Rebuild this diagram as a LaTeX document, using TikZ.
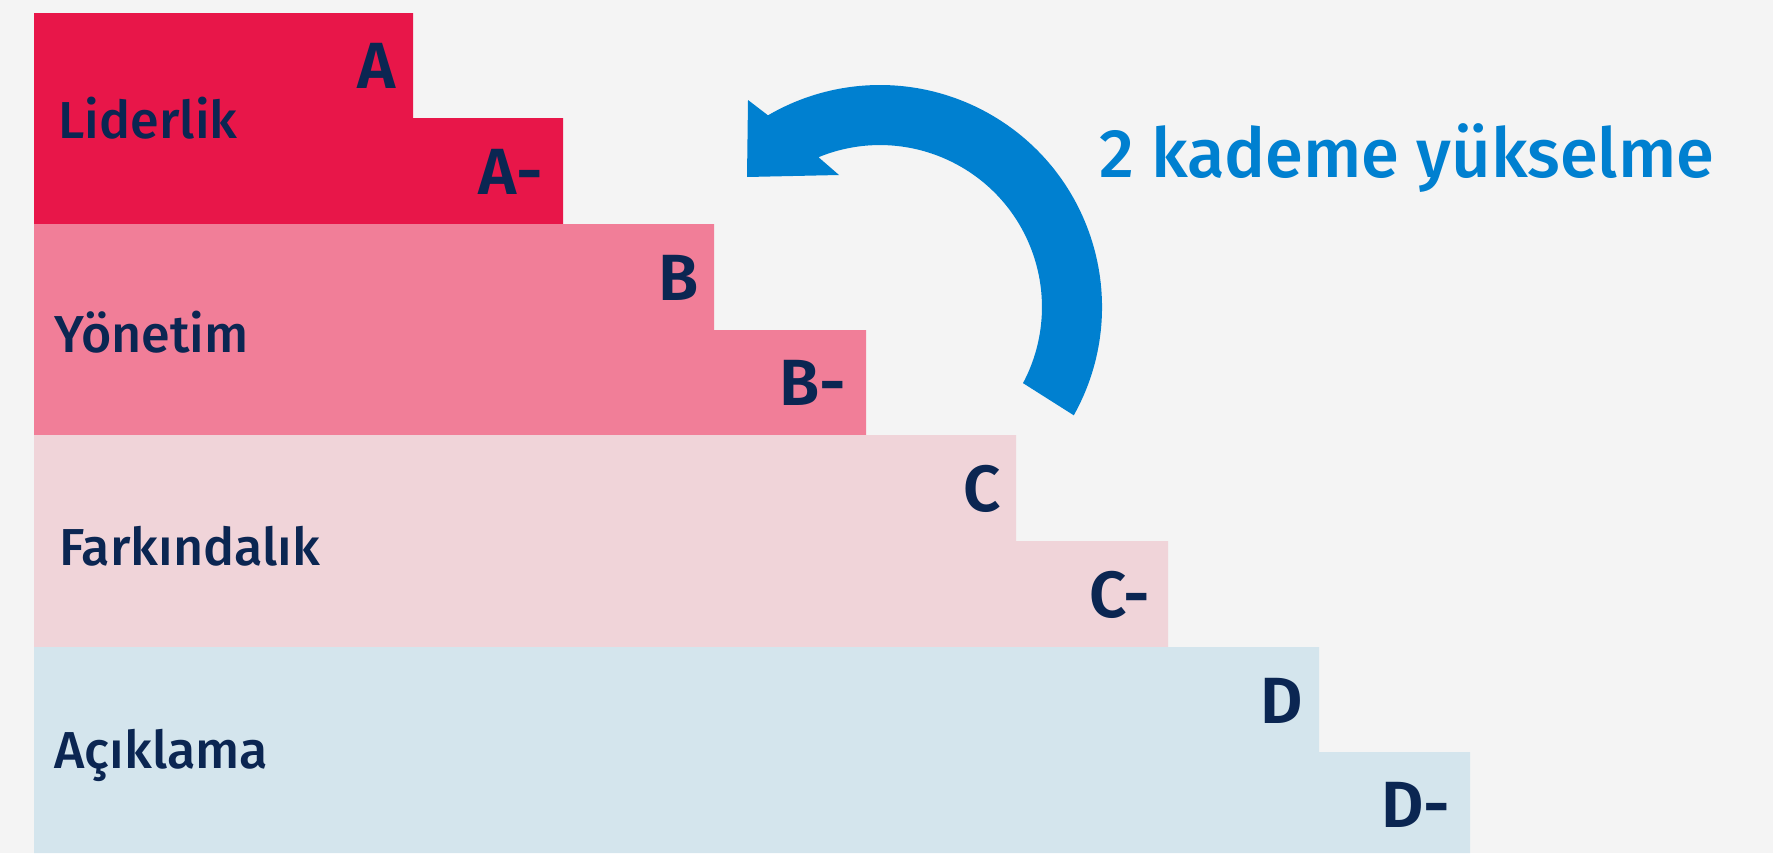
\documentclass[tikz,border=0pt]{standalone}
\usepackage{fontspec}
\setmainfont{Fira Sans}
\newfontfamily\medfont{Fira Sans Medium}
\newfontfamily\semifont{Fira Sans SemiBold}
\usepackage{tikz}
\definecolor{bgGrey}{RGB}{244,244,244}
\definecolor{stepRed}{RGB}{232,22,73}
\definecolor{stepPink}{RGB}{241,126,152}
\definecolor{stepRose}{RGB}{240,212,217}
\definecolor{stepBlue}{RGB}{212,229,237}
\definecolor{navyText}{RGB}{11,38,82}
\definecolor{arrowBlue}{RGB}{0,128,208}
\tikzset{every picture/.style={line width=0.75pt}}
\tikzset{
  grade/.style={anchor=base east, inner sep=0pt, text=navyText, font=\semifont\fontsize{49}{55}\selectfont},
  level/.style={anchor=base west, inner sep=0pt, text=navyText, font=\medfont\fontsize{39}{45}\selectfont},
  note/.style={anchor=base west, inner sep=0pt, text=arrowBlue, font=\medfont\fontsize{51.5}{58}\selectfont}
}

\begin{document}
\begin{tikzpicture}[x=0.75pt,y=0.75pt,yscale=-1,xscale=1]
%Shape: Rectangle [background]
\fill[bgGrey] (0,0) rectangle (1773,853);

%Shape: Steps [Liderlik]
\fill[stepRed] (34,13) -- (413,13) -- (413,118) -- (563,118) -- (563,224) -- (34,224) -- cycle;
%Shape: Steps [Yonetim]
\fill[stepPink] (34,224) -- (714,224) -- (714,330) -- (866,330) -- (866,435) -- (34,435) -- cycle;
%Shape: Steps [Farkindalik]
\fill[stepRose] (34,435) -- (1016,435) -- (1016,541) -- (1168,541) -- (1168,647) -- (34,647) -- cycle;
%Shape: Steps [Aciklama]
\fill[stepBlue] (34,647) -- (1319,647) -- (1319,752) -- (1470,752) -- (1470,853) -- (34,853) -- cycle;

%Curved Arrow
\coordinate (turnC) at (880,307);
\fill[arrowBlue] (turnC) ++(29.2:222) arc[start angle=29.2, end angle=-120.3, radius=222]
  -- (748,100) -- (747,177) -- (839,175) -- (818.5,157.2)
  arc[start angle=-112.3, end angle=28, radius=162] -- cycle;

% Text Node
\draw (58,138) node [level] (lidTxt) {Liderlik};
% Text Node
\draw (54,352) node [level] (yonTxt) {Yönetim};
% Text Node
\draw (59,565) node [level] (farTxt) {Farkındalık};
% Text Node
\draw (54,768) node [level] (aciTxt) {Açıklama};

% Text Node
\draw (396,88) node [grade] (gA) {A};
\draw (543,194) node [grade] (gAm) {A-};
\draw (699,300) node [grade] (gB) {B};
\draw (847,405) node [grade] (gBm) {B-};
\draw (1001,511) node [grade] (gC) {C};
\draw (1150,617) node [grade] (gCm) {C-};
\draw (1303,723) node [grade] (gD) {D};
\draw (1451,827) node [grade] (gDm) {D-};

% Text Node
\draw (1099,177) node [note] (upTxt) {2 kademe yükselme};

\end{tikzpicture}
\end{document}
